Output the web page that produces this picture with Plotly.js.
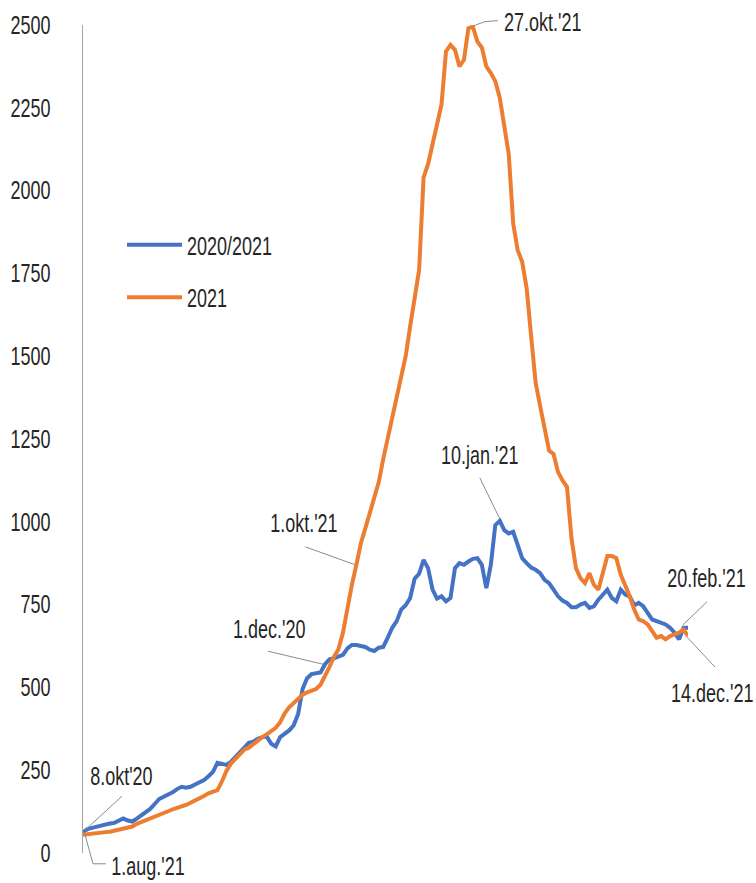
<!DOCTYPE html>
<html>
<head>
<meta charset="utf-8">
<script src="https://cdn.plot.ly/plotly-3.0.1.min.js"></script>
<style>
html,body{margin:0;padding:0;background:#fff;}
#chart{width:756px;height:883px;}
</style>
</head>
<body>
<div id="chart"></div>
<script>
// ---- data (one value per day) ----
const seriesNames = ["2020/2021", "2021"];
const blueValues = [
 63,72,76,80,84,86,89,91,96,104,98,95,104,114,124,133,148,163,170,175,
 183,193,200,197,200,207,212,220,232,245,272,268,266,275,290,305,322,333,336,345,
 350,352,330,322,350,360,370,385,420,495,528,540,543,545,570,585,588,592,598,618,
 628,628,624,622,614,610,620,622,650,680,700,735,748,770,828,843,885,860,795,768,
 775,760,770,860,875,870,880,888,890,870,800,870,990,1003,975,965,970,930,890,875,
 862,855,845,825,815,795,775,762,755,742,742,750,755,740,745,765,780,795,770,760,
 795,780,775,748,755,745,725,705,700,695,690,680,665,645,680,680
];
const orangeValues = [
 55,57,60,62,62,63,64,67,70,73,76,80,88,93,98,104,110,115,120,126,
 132,136,140,145,152,158,165,172,180,186,190,216,248,270,285,300,312,318,330,342,
 350,358,368,378,395,422,440,452,468,478,485,490,495,508,532,562,592,615,665,740,
 810,870,935,980,1025,1070,1120,1190,1250,1310,1370,1430,1500,1590,1680,1760,2040,2080,2140,2200,
 2260,2420,2440,2425,2375,2395,2490,2495,2450,2432,2375,2355,2330,2280,2200,2110,1900,1820,1785,1705,
 1560,1420,1350,1280,1215,1205,1150,1125,1105,950,860,830,815,845,810,795,850,897,897,890,
 840,810,775,735,705,700,690,670,650,655,645,655,660,665,675,655
];
const yTickVals = [0,250,500,750,1000,1250,1500,1750,2000,2250,2500];
const yTickText = ["0","250","500","750","1000","1250","1500","1750","2000","2250","2500"];
// annotated points: [series, day index, label]
const callouts = [
 ["blue", 0, "8.okt'20"],
 ["orange", 0, "1.aug.'21"],
 ["blue", 54, "1.dec.'20"],
 ["orange", 61, "1.okt.'21"],
 ["orange", 87, "27.okt.'21"],
 ["blue", 93, "10.jan.'21"],
 ["blue", 135, "20.feb.'21"],
 ["orange", 135, "14.dec.'21"]
];

// ---- layout constants ----
const W = 756, H = 883;
const M = {l: 83, r: 68, t: 25, b: 30};
const PW = W - M.l - M.r, PH = H - M.t - M.b;
const XMAX = blueValues.length - 1, YMAX = 2500;
const FONT = "'Liberation Sans', Arial, sans-serif";
const FS = 25;          // font size
const NARROW = 0.72;    // horizontal condensing of all texts
const TXT = "#262626";
const BLUE = "#4472C4", ORANGE = "#ED7D31";

const days = blueValues.map((_, i) => i);

// leader line (pixel offsets from anchor, screen y down) and label centre offset
const calloutStyle = {
 "8.okt'20":  {path: [[2,-2],[39,-36]], text: [38,-56]},
 "1.aug.'21": {path: [[2,0],[10,29],[23,29]], text: [65,31]},
 "1.dec.'20": {path: [[-57,-13],[-2,0]], text: [-56,-35]},
 "1.okt.'21": {path: [[-51,-18],[-1,0]], text: [-52,-42]},
 "27.okt.'21":{path: [[1,-1],[12,-5],[25,-6]], text: [70,-5]},
 "10.jan.'21":{path: [[-20,-43],[0,-2]], text: [-20,-66]},
 "20.feb.'21":{path: [[-5,-3],[19,-26]], text: [18,-50]},
 "14.dec.'21":{path: [[-1,1],[27,31]], text: [24,57]}
};

function px2paperX(px){ return (px - M.l) / PW; }
function px2paperY(py){ return (H - M.b - py) / PH; }

const shapes = [], annotations = [];
callouts.forEach(([s, i, label]) => {
  const v = (s === "blue" ? blueValues : orangeValues)[i];
  const ax = M.l + i / XMAX * PW;
  const ay = M.t + (1 - v / YMAX) * PH;
  const st = calloutStyle[label];
  const pts = st.path.map(([dx,dy]) => [px2paperX(ax+dx), px2paperY(ay+dy)]);
  for (let k = 0; k < pts.length - 1; k++) {
    shapes.push({type: "line", xref: "paper", yref: "paper",
      x0: pts[k][0], y0: pts[k][1], x1: pts[k+1][0], y1: pts[k+1][1],
      line: {color: "#8c8c8c", width: 1}});
  }
  annotations.push({xref: "paper", yref: "paper",
    x: px2paperX(ax + st.text[0]), y: px2paperY(ay + st.text[1]),
    xanchor: "center", yanchor: "middle", showarrow: false, text: label,
    font: {family: FONT, size: FS, color: TXT}});
});

const traces = [
  {x: days, y: blueValues, name: seriesNames[0], type: "scatter", mode: "lines",
   legendgroup: "a", line: {color: BLUE, width: 4}},
  {x: days, y: orangeValues, name: seriesNames[1], type: "scatter", mode: "lines",
   legendgroup: "b", line: {color: ORANGE, width: 4}}
];

const layout = {
  width: W, height: H,
  margin: M,
  paper_bgcolor: "#fff", plot_bgcolor: "#fff",
  font: {family: FONT, size: FS, color: TXT},
  showlegend: true,
  legend: {x: px2paperX(122), y: px2paperY(222), xanchor: "left", yanchor: "top",
    bgcolor: "rgba(0,0,0,0)", font: {family: FONT, size: FS, color: TXT},
    tracegroupgap: 17, itemwidth: 55, traceorder: "grouped"},
  xaxis: {range: [0, XMAX], visible: false, showgrid: false, zeroline: false, fixedrange: true},
  yaxis: {range: [0, YMAX], tickvals: yTickVals, ticktext: yTickText,
    showgrid: false, zeroline: false, showline: true, linecolor: "#a6a6a6", linewidth: 1.5,
    ticks: "", ticklabelstandoff: 26, tickfont: {family: FONT, size: FS, color: TXT}},
  shapes: shapes,
  annotations: annotations
};

Plotly.newPlot("chart", traces, layout, {displayModeBar: false, staticPlot: true}).then(gd => {
  // condense every text horizontally around its own anchor (narrow typeface look)
  gd.querySelectorAll("text").forEach(t => {
    if (!t.textContent.trim()) return;
    const bb = t.getBBox();
    const anchor = t.getAttribute("text-anchor") || "start";
    const ax = anchor === "end" ? bb.x + bb.width : anchor === "middle" ? bb.x + bb.width / 2 : bb.x;
    const prev = t.getAttribute("transform") || "";
    t.setAttribute("transform", prev + " translate(" + ax + ",0) scale(" + NARROW + ",1) translate(" + (-ax) + ",0)");
  });
});
</script>
</body>
</html>
